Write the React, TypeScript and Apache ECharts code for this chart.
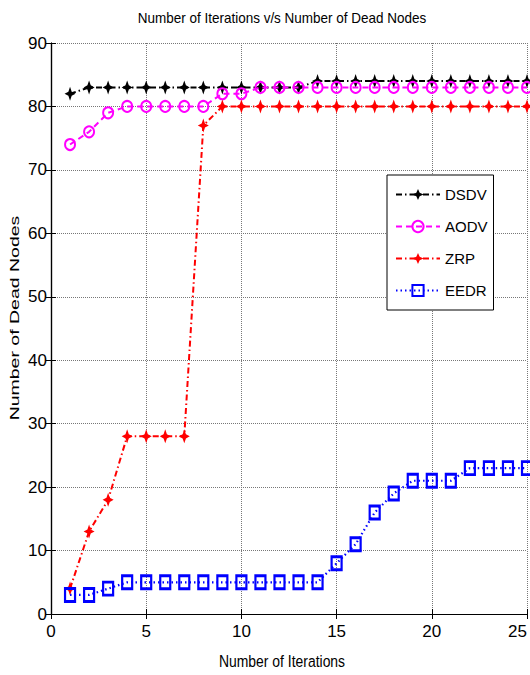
import React, { useEffect, useRef } from "react";
import * as echarts from "echarts";

const iterations = [1, 2, 3, 4, 5, 6, 7, 8, 9, 10, 11, 12, 13, 14, 15, 16, 17, 18, 19, 20, 21, 22, 23, 24, 25];
const dsdv = [82, 83, 83, 83, 83, 83, 83, 83, 83, 83, 83, 83, 83, 84, 84, 84, 84, 84, 84, 84, 84, 84, 84, 84, 84];
const aodv = [74, 76, 79, 80, 80, 80, 80, 80, 82, 82, 83, 83, 83, 83, 83, 83, 83, 83, 83, 83, 83, 83, 83, 83, 83];
const zrp = [4, 13, 18, 28, 28, 28, 28, 77, 80, 80, 80, 80, 80, 80, 80, 80, 80, 80, 80, 80, 80, 80, 80, 80, 80];
const eedr = [3, 3, 4, 5, 5, 5, 5, 5, 5, 5, 5, 5, 5, 5, 8, 11, 16, 19, 21, 21, 21, 23, 23, 23, 23];
const xTicks = [0, 5, 10, 15, 20, 25];
const yTicks = [0, 10, 20, 30, 40, 50, 60, 70, 80, 90];

const FONT = "'Liberation Sans', Arial, sans-serif";
const STAR = "path://M0,-10 L3,-3 L10,0 L3,3 L0,10 L-3,3 L-10,0 L-3,-3 Z";

const pairs = (ys: number[]) => iterations.map((x, i) => [x, ys[i]]);

export default function App() {
  const ref = useRef<HTMLDivElement>(null);
  useEffect(() => {
    if (!ref.current) return;
    const chart = echarts.init(ref.current, undefined, { renderer: "svg" });
    const tickAxis = {
      axisLine: { show: true, lineStyle: { color: "#000", width: 1.2 } },
      axisTick: { show: true, inside: true, length: 5, lineStyle: { color: "#000" } },
      axisLabel: { show: false },
      splitLine: { show: false },
    };
    chart.setOption({
      animation: false,
      backgroundColor: "#fff",
      grid: { left: 51, right: 3, top: 43, bottom: 61, containLabel: false, outerBoundsMode: "none" },
      xAxis: [
        {
          type: "value",
          min: xTicks[0],
          max: xTicks[xTicks.length - 1],
          interval: 5,
          axisLine: { lineStyle: { color: "#000", width: 1.2 } },
          axisTick: { inside: true, length: 5, lineStyle: { color: "#000" } },
          axisLabel: { fontFamily: FONT, fontSize: 17, color: "#000", margin: 9, alignMaxLabel: "right" },
          splitLine: { show: true, lineStyle: { color: "#777", type: "dotted", width: 1 } },
        },
        { type: "value", position: "top", min: 0, max: 25, interval: 5, ...tickAxis },
      ],
      yAxis: [
        {
          type: "value",
          min: yTicks[0],
          max: yTicks[yTicks.length - 1],
          interval: 10,
          axisLine: { show: true, lineStyle: { color: "#000", width: 1.2 } },
          axisTick: { show: true, inside: true, length: 5, lineStyle: { color: "#000" } },
          axisLabel: { fontFamily: FONT, fontSize: 17, color: "#000", margin: 4 },
          splitLine: { show: true, lineStyle: { color: "#777", type: "dotted", width: 1 } },
        },
        { type: "value", position: "right", min: 0, max: 90, interval: 10, ...tickAxis },
      ],
      legend: {
        orient: "vertical",
        left: 387,
        top: 175,
        padding: [12, 6, 12, 8],
        itemGap: 17,
        itemWidth: 44,
        itemHeight: 14,
        backgroundColor: "#fff",
        borderColor: "#000",
        borderWidth: 1,
        borderRadius: 0,
        textStyle: { fontFamily: FONT, fontSize: 15, color: "#000" },
        data: ["DSDV", "AODV", "ZRP", "EEDR"],
      },
      graphic: [
        {
          type: "text",
          x: 282,
          y: 18,
          scaleX: 0.9,
          style: {
            text: "Number of Iterations v/s Number of Dead Nodes",
            fontFamily: FONT,
            fontSize: 15,
            fill: "#000",
            align: "center",
            verticalAlign: "middle",
          },
        },
        {
          type: "text",
          x: 282,
          y: 661,
          scaleX: 0.82,
          style: {
            text: "Number of Iterations",
            fontFamily: FONT,
            fontSize: 17,
            fill: "#000",
            align: "center",
            verticalAlign: "middle",
          },
        },
        {
          type: "text",
          x: 15,
          y: 318,
          rotation: Math.PI / 2,
          scaleX: 1.5,
          style: {
            text: "Number of Dead Nodes",
            fontFamily: FONT,
            fontSize: 13,
            fill: "#000",
            align: "center",
            verticalAlign: "middle",
          },
        },
      ],
      series: [
        {
          name: "DSDV",
          type: "line",
          data: pairs(dsdv),
          symbol: STAR,
          symbolSize: [11, 14],
          itemStyle: { color: "#000" },
          lineStyle: { color: "#000", width: 2, type: [6, 3, 1.5, 3] },
          z: 2,
        },
        {
          name: "AODV",
          type: "line",
          data: pairs(aodv),
          symbol: "circle",
          symbolSize: [10, 11],
          itemStyle: { color: "transparent", borderColor: "#ff00ff", borderWidth: 2 },
          lineStyle: { color: "#ff00ff", width: 2, type: [6, 4] },
          z: 3,
        },
        {
          name: "ZRP",
          type: "line",
          data: pairs(zrp),
          symbol: STAR,
          symbolSize: [11, 14],
          itemStyle: { color: "#ff0000" },
          lineStyle: { color: "#ff0000", width: 2, type: [6, 3, 1.5, 3] },
          z: 4,
        },
        {
          name: "EEDR",
          type: "line",
          data: pairs(eedr),
          symbol: "rect",
          symbolSize: [10, 13],
          itemStyle: { color: "transparent", borderColor: "#0000ff", borderWidth: 2.5 },
          lineStyle: { color: "#0000ff", width: 2.2, type: [1.5, 3] },
          z: 5,
        },
      ],
    });
    return () => chart.dispose();
  }, []);
  return (
    <div
      ref={ref}
      style={{ position: "fixed", left: 0, top: 0, width: 530, height: 675, background: "#fff" }}
    />
  );
}
